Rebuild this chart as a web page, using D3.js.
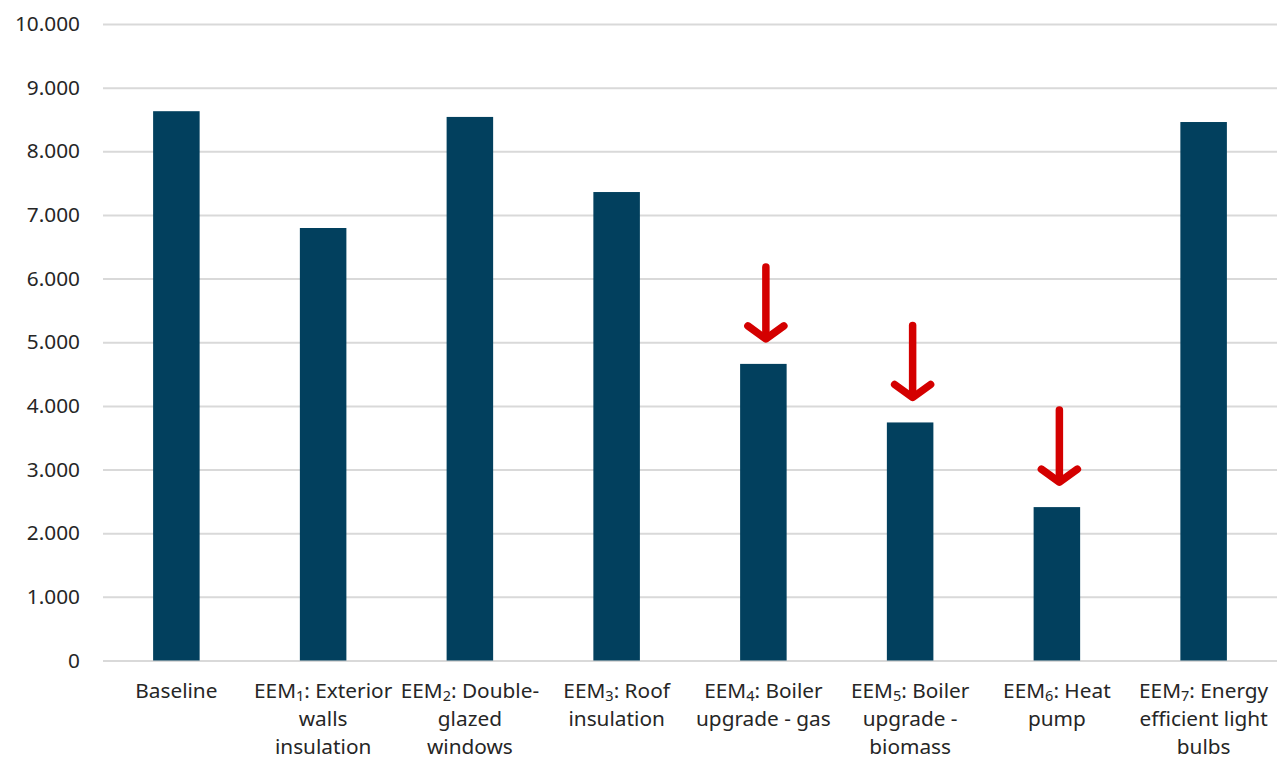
<!DOCTYPE html>
<html>
<head>
<meta charset="utf-8">
<script src="https://cdn.jsdelivr.net/npm/d3@7/dist/d3.min.js"></script>
<style>
  html, body { margin: 0; padding: 0; background: #ffffff; }
  svg { display: block; font-family: "Noto Sans", "Open Sans", sans-serif; }
</style>
</head>
<body>
<svg id="chart" width="1278" height="760"></svg>
<script>
// Energy efficiency measures and resulting values
const categories = [
  "Baseline",
  "EEM1: Exterior walls insulation",
  "EEM2: Double-glazed windows",
  "EEM3: Roof insulation",
  "EEM4: Boiler upgrade - gas",
  "EEM5: Boiler upgrade - biomass",
  "EEM6: Heat pump",
  "EEM7: Energy efficient light bulbs"
];
const values = [8630, 6795, 8540, 7360, 4660, 3740, 2410, 8460];

// Wrapped axis labels; "_n" marks a subscript digit
const labelLines = [
  ["Baseline"],
  ["EEM_1: Exterior", "walls", "insulation"],
  ["EEM_2: Double-", "glazed", "windows"],
  ["EEM_3: Roof", "insulation"],
  ["EEM_4: Boiler", "upgrade - gas"],
  ["EEM_5: Boiler", "upgrade -", "biomass"],
  ["EEM_6: Heat", "pump"],
  ["EEM_7: Energy", "efficient light", "bulbs"]
];

// Measures highlighted with a downward arrow
const highlighted = [
  "EEM4: Boiler upgrade - gas",
  "EEM5: Boiler upgrade - biomass",
  "EEM6: Heat pump"
];

const yTicks = [0, 1000, 2000, 3000, 4000, 5000, 6000, 7000, 8000, 9000, 10000];

const svg = d3.select("#chart");
const plotLeft = 103, plotRight = 1277, plotTop = 24, plotBottom = 660.5;
const fontSize = 20.8;

const x = d3.scaleBand().domain(categories).range([plotLeft, plotRight]).paddingInner(0.683).paddingOuter(0.3415);
const y = d3.scaleLinear().domain([0, 10000]).range([plotBottom, plotTop]);

const fmt = v => d3.format(",")(v).replace(/,/g, ".");

// Gridlines and value labels
const yAxis = d3.axisLeft(y).tickValues(yTicks).tickSize(-(plotRight - plotLeft)).tickFormat(fmt).tickPadding(23);
const gy = svg.append("g").attr("transform", `translate(${plotLeft},0)`).call(yAxis);
gy.select(".domain").remove();
gy.selectAll(".tick line").attr("stroke", "#d9d9d9").attr("stroke-width", 2);
gy.selectAll(".tick text")
  .attr("font-size", fontSize).attr("fill", "#262626")
  .attr("font-family", "'Noto Sans', 'Open Sans', sans-serif");

// Bars
svg.append("g").selectAll("rect").data(categories).join("rect")
  .attr("x", d => x(d))
  .attr("width", x.bandwidth())
  .attr("y", (d, i) => y(values[i]))
  .attr("height", (d, i) => y(0) - y(values[i]))
  .attr("fill", "#02405e");

// Category labels
const gx = svg.append("g").attr("transform", `translate(0,${plotBottom})`);
categories.forEach((c, i) => {
  const cx = x(c) + x.bandwidth() / 2;
  const t = gx.append("text")
    .attr("x", cx).attr("y", 37.5)
    .attr("text-anchor", "middle")
    .attr("font-size", fontSize).attr("fill", "#262626");
  labelLines[i].forEach((line, li) => {
    const parts = line.split(/_(\d)/);
    parts.forEach((p, pi) => {
      const sp = t.append("tspan").text(p);
      if (pi === 0) sp.attr("x", cx).attr("dy", li === 0 ? 0 : 28);
      if (pi % 2 === 1) {
        sp.attr("font-size", 14.5).attr("dy", 3);
      } else if (pi > 0) {
        sp.attr("dy", -3);
      }
    });
  });
});

// Downward arrows over highlighted measures
const arrowG = svg.append("g")
  .attr("fill", "none").attr("stroke", "#d40000")
  .attr("stroke-width", 7.5).attr("stroke-linecap", "round").attr("stroke-linejoin", "round");
highlighted.forEach(c => {
  const i = categories.indexOf(c);
  const cx = x(c) + x.bandwidth() / 2 + 2.5;
  const tip = y(values[i]) - 25;
  const tail = tip - 72;
  arrowG.append("path").attr("d", d3.line()([[cx, tail], [cx, tip - 3]]));
  arrowG.append("path").attr("d", d3.line()([[cx - 18, tip - 13], [cx, tip], [cx + 18, tip - 13]]));
});
</script>
</body>
</html>
